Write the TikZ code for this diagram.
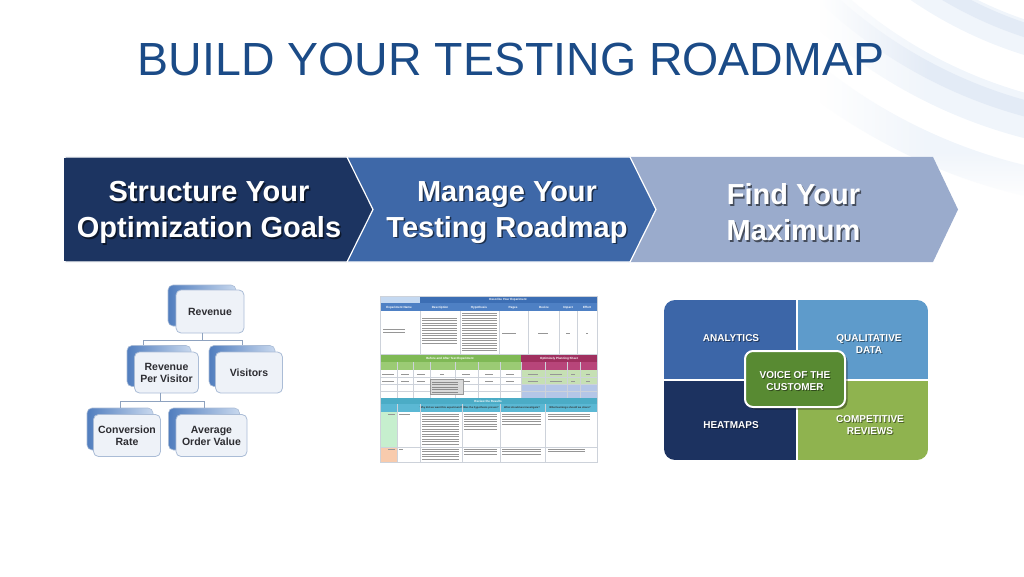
\documentclass[tikz,border=0pt]{standalone}
\usepackage{fontspec}
\setmainfont{Liberation Sans}
\usetikzlibrary{calc,fadings}
\definecolor{titleblue}{RGB}{27,75,135}
\definecolor{chA}{RGB}{28,52,97}
\definecolor{chB}{RGB}{62,104,168}
\definecolor{chC}{RGB}{154,171,204}
\definecolor{swirlA}{RGB}{240,245,251}
\definecolor{swirlB}{RGB}{227,235,246}
\definecolor{orgline}{RGB}{142,162,191}
\definecolor{orgborder}{RGB}{170,188,214}
\definecolor{orgfill}{RGB}{238,242,248}
\definecolor{orgbackL}{RGB}{80,125,190}
\definecolor{orgbackR}{RGB}{200,216,238}
\definecolor{orgtext}{RGB}{45,45,50}
\definecolor{qTL}{RGB}{60,102,168}
\definecolor{qTR}{RGB}{94,155,203}
\definecolor{qBL}{RGB}{28,50,96}
\definecolor{qBR}{RGB}{143,179,79}
\definecolor{qC}{RGB}{88,138,50}
\definecolor{sbDark}{RGB}{60,110,180}
\definecolor{sbMid}{RGB}{78,128,196}
\definecolor{sbLight}{RGB}{197,217,241}
\definecolor{sgDark}{RGB}{127,185,85}
\definecolor{sgMid}{RGB}{155,203,116}
\definecolor{smDark}{RGB}{160,48,95}
\definecolor{smMid}{RGB}{184,69,122}
\definecolor{sgLight}{RGB}{198,224,180}
\definecolor{sbRow}{RGB}{180,198,231}
\definecolor{stDark}{RGB}{75,172,198}
\definecolor{stMid}{RGB}{91,184,212}
\definecolor{sGreen}{RGB}{198,239,206}
\definecolor{sPeach}{RGB}{248,203,173}
\definecolor{sGrid}{RGB}{205,210,218}
\definecolor{sText}{RGB}{150,150,150}
\begin{document}
\begin{tikzpicture}[x=1pt,y=-1pt,
  chevtext/.style={text=white,align=center,font=\fontsize{29}{36}\selectfont\bfseries},
  chevshadow/.style={text=black,opacity=0.55,align=center,font=\fontsize{29}{36}\selectfont\bfseries},
  orgfront/.style={draw=orgborder,line width=0.8pt,fill=orgfill,rounded corners=5pt,align=center,
     text=orgtext,font=\fontsize{10.5}{12}\selectfont\bfseries,inner sep=1pt},
  orgback/.style={draw=orgborder,line width=0.6pt,left color=orgbackL,right color=orgbackR,rounded corners=5pt},
  conn/.style={draw=orgline,line width=0.8pt},
  quadtext/.style={text=white,align=center,font=\fontsize{10}{12.5}\selectfont\bfseries},
  quadshadow/.style={text=black,opacity=0.45,align=center,font=\fontsize{10}{12.5}\selectfont\bfseries},
  sh/.style={text=white,font=\fontsize{3}{3.5}\selectfont\bfseries,inner sep=0pt},
  shd/.style={text=black!80,font=\fontsize{2.6}{3}\selectfont\bfseries,inner sep=0pt,align=center},
  tb/.style={draw=sText,line width=0.9pt},
  grid/.style={draw=sGrid,line width=0.3pt}
]
\useasboundingbox (0,0) rectangle (1024,577);

% background swirls
\begin{scope}
  \clip (820,0) rectangle (1024,200);
  \draw[swirlA,line width=34pt] (1150,-350) circle[radius=407pt];
  \draw[swirlB,line width=14pt] (1150,-350) circle[radius=400pt];
  \draw[swirlA,line width=44pt] (1150,-350) circle[radius=482pt];
  \draw[swirlB,line width=16pt] (1150,-350) circle[radius=475pt];
  \draw[swirlA,line width=30pt] (1150,-350) circle[radius=545pt];
\end{scope}
\fill[white,path fading=east] (819,-1) rectangle (930,201);
\fill[white,path fading=north] (850,150) rectangle (1025,201);

% title
\node[text=titleblue,font=\fontsize{46.5}{50}\selectfont] (title) at (511,59) {BUILD YOUR TESTING ROADMAP};

% chevrons
\fill[chC] (628,157) -- (933,157) -- (958,209.5) -- (933,262) -- (628,262) -- cycle;
\filldraw[fill=chB,draw=white,line width=1.2pt] (345,157) -- (630,157) -- (656,209.5) -- (630,262) -- (345,262) -- cycle;
\filldraw[fill=chA,draw=white,line width=1.2pt] (65,157) -- (347,157) -- (373,209.5) -- (347,262) -- (65,262) -- cycle;
\fill[chA] (64,157.6) rectangle (66,261.4);

\node[chevshadow] (t1s) at (210.5,214) {Structure Your\\Optimization Goals};
\node[chevtext] (t1) at (209,212.5) {Structure Your\\Optimization Goals};
\node[chevshadow] (t2s) at (508.5,214) {Manage Your\\Testing Roadmap};
\node[chevtext] (t2) at (507,212.5) {Manage Your\\Testing Roadmap};
\node[chevshadow] (t3s) at (795,214) {Find Your\\Maximum};
\node[chevtext] (t3) at (793.5,212.5) {Find Your\\Maximum};

% org chart
\node[orgback,minimum width=68pt,minimum height=41pt] (revB) at (202,305.5) {};
\node[orgfront,minimum width=68pt,minimum height=43pt] (revF) at (210,311.5) {Revenue};
\node[orgback,minimum width=64pt,minimum height=41pt] (rpvB) at (159,366) {};
\node[orgback,minimum width=66pt,minimum height=41pt] (visB) at (242,366) {};
\node[orgfront,minimum width=64pt,minimum height=41pt] (rpvF) at (166.5,372.5) {Revenue\\Per Visitor};
\node[orgfront,minimum width=67pt,minimum height=41pt] (visF) at (249,372.5) {Visitors};
\node[orgback,minimum width=66pt,minimum height=42pt] (crB) at (120,429) {};
\node[orgback,minimum width=71pt,minimum height=42pt] (aovB) at (204,429) {};
\node[orgfront,minimum width=67pt,minimum height=42pt] (crF) at (127,435.5) {Conversion\\Rate};
\node[orgfront,minimum width=71pt,minimum height=42pt] (aovF) at (211.5,435.5) {Average\\Order Value};
\coordinate (j1) at (202,340);
\coordinate (j2) at (160,401);
\draw[conn] (revF.south -| j1) -- (j1);
\draw[conn] (j1) -| ($(rpvB.north)+(-16,0)$);
\draw[conn] (j1) -| (visB.north);
\draw[conn] (rpvF.south -| j2) -- (j2);
\draw[conn] (j2) -| (crB.north);
\draw[conn] (j2) -| (aovB.north);

% spreadsheet
\begin{scope}
  \fill[white] (380,296) rectangle (597,462);
  % section 1
  \fill[sbLight] (380,296) rectangle (420,303);
  \fill[sbDark] (420,296) rectangle (597,303);
  \fill[sbMid] (380,303) rectangle (597,311);
  \node[sh] (h0) at (508,299.5) {Describe Your Experiment};
  \foreach \x/\t/\n in {399/Experiment Name/a,440/Description/b,479/Hypothesis/c,513/Pages/d,544/Device/e,568/Impact/f,587/Effort/g}
    \node[sh] (hd\n) at (\x,307.5) {\t};
  \foreach \x in {420,460,499,528,559,577}
    \draw[grid] (\x,311) -- (\x,354);
  \draw[grid] (380,354) -- (597,354);
  \foreach \y in {329,332} \draw[tb] (383,\y) -- (405,\y);
  \foreach \y in {318,320.5,...,345} \draw[tb] (422,\y) -- (457,\y);
  \foreach \y in {313,315.5,...,352} \draw[tb] (462,\y) -- (497,\y);
  \draw[tb] (502,333) -- (516,333);
  \draw[tb] (538,333) -- (548,333);
  \draw[tb] (566,333) -- (570,333);
  \draw[tb] (586,333) -- (588,333);
  % section 2
  \fill[sgDark] (380,355) rectangle (521,362);
  \fill[sgMid] (380,362) rectangle (521,370);
  \fill[smDark] (521,355) rectangle (597,362);
  \fill[smMid] (521,362) rectangle (597,370);
  \fill[sgLight] (521,370) rectangle (597,384);
  \fill[sbRow] (521,384) rectangle (597,398);
  \node[sh] (h1) at (450,358.5) {Before and After Test Experiment};
  \node[sh] (h2) at (559,358.5) {Optimizely Planning Sheet};
  \foreach \x in {397,413,430,455,478,500,521,545,567,580}
    \draw[grid] (\x,362) -- (\x,398);
  \foreach \y in {377,384,391} \draw[grid] (380,\y) -- (597,\y);
  \foreach \x/\w in {388/6,405/4,421/4,442/2,466/4,489/4,510/4,533/5,556/6,573/2,588/2} {
    \draw[tb] (\x-\w,374) -- (\x+\w,374);
    \draw[tb] (\x-\w,381) -- (\x+\w,381);
  }
  \filldraw[fill=black!15,draw=black!40,line width=0.4pt] (430,379) rectangle (463,394);
  \foreach \y in {382,384.5,...,392} \draw[draw=black!45,line width=0.7pt] (432,\y) -- (458,\y);
  % section 3
  \fill[stDark] (380,398) rectangle (597,404);
  \fill[stMid] (380,404) rectangle (597,412);
  \node[sh] (h3) at (488,401) {Review the Results};
  \foreach \x/\t/\n in {441/Why did we want this experiment?/a,481/Was the hypothesis proven?/b,522/What should we investigate?/c,570/What learnings should we share?/d}
    \node[shd] (rh\n) at (\x,408) {\t};
  \fill[sGreen] (380,412) rectangle (397,447);
  \fill[sPeach] (380,447) rectangle (397,462);
  \foreach \x in {397,420,462,500,545}
    \draw[grid] (\x,404) -- (\x,462);
  \draw[grid] (380,447) -- (597,447);
  \draw[tb] (388,414) -- (395,414);
  \draw[tb] (399,414) -- (410,414);
  \draw[tb] (388,449) -- (395,449);
  \draw[tb] (399,449) -- (403,449);
  \foreach \y in {414,416.5,...,444} \draw[tb] (422,\y) -- (459,\y);
  \foreach \y in {414,416.5,...,429} \draw[tb] (464,\y) -- (497,\y);
  \foreach \y in {414,416.5,...,424} \draw[tb] (502,\y) -- (541,\y);
  \foreach \y in {414,416.5,...,419} \draw[tb] (548,\y) -- (590,\y);
  \foreach \y in {449,451.5,...,459} \draw[tb] (422,\y) -- (459,\y);
  \foreach \y in {449,451.5,...,454} \draw[tb] (464,\y) -- (497,\y);
  \foreach \y in {449,451.5,...,454} \draw[tb] (502,\y) -- (541,\y);
  \foreach \y in {449,451.5} \draw[tb] (548,\y) -- (585,\y);
  \draw[grid] (380,296) rectangle (597,462);
\end{scope}

% quadrant
\begin{scope}
  \clip[rounded corners=11pt] (664,300) rectangle (928,460);
  \fill[qTL] (664,300) rectangle (795.5,379);
  \fill[qTR] (797.5,300) rectangle (928,379);
  \fill[qBL] (664,381) rectangle (795.5,460);
  \fill[qBR] (797.5,381) rectangle (928,460);
\end{scope}
\node[fill=black,opacity=0.35,rounded corners=8pt,minimum width=100pt,minimum height=56pt] (vocs) at (797.5,381.5) {};
\node[draw=white,line width=2pt,fill=qC,rounded corners=8pt,minimum width=100pt,minimum height=56pt] (voc) at (795,379) {};
\foreach \n/\x/\y/\t in {an/731/338/ANALYTICS,qd/869/344/QUALITATIVE\\DATA,vc/795/381/VOICE OF THE\\CUSTOMER,hm/731/425/HEATMAPS,cr/870/425/COMPETITIVE\\REVIEWS} {
  \node[quadshadow] (\n s) at (\x+1,\y+1) {\t};
  \node[quadtext] (\n) at (\x,\y) {\t};
}
\end{tikzpicture}
\end{document}
